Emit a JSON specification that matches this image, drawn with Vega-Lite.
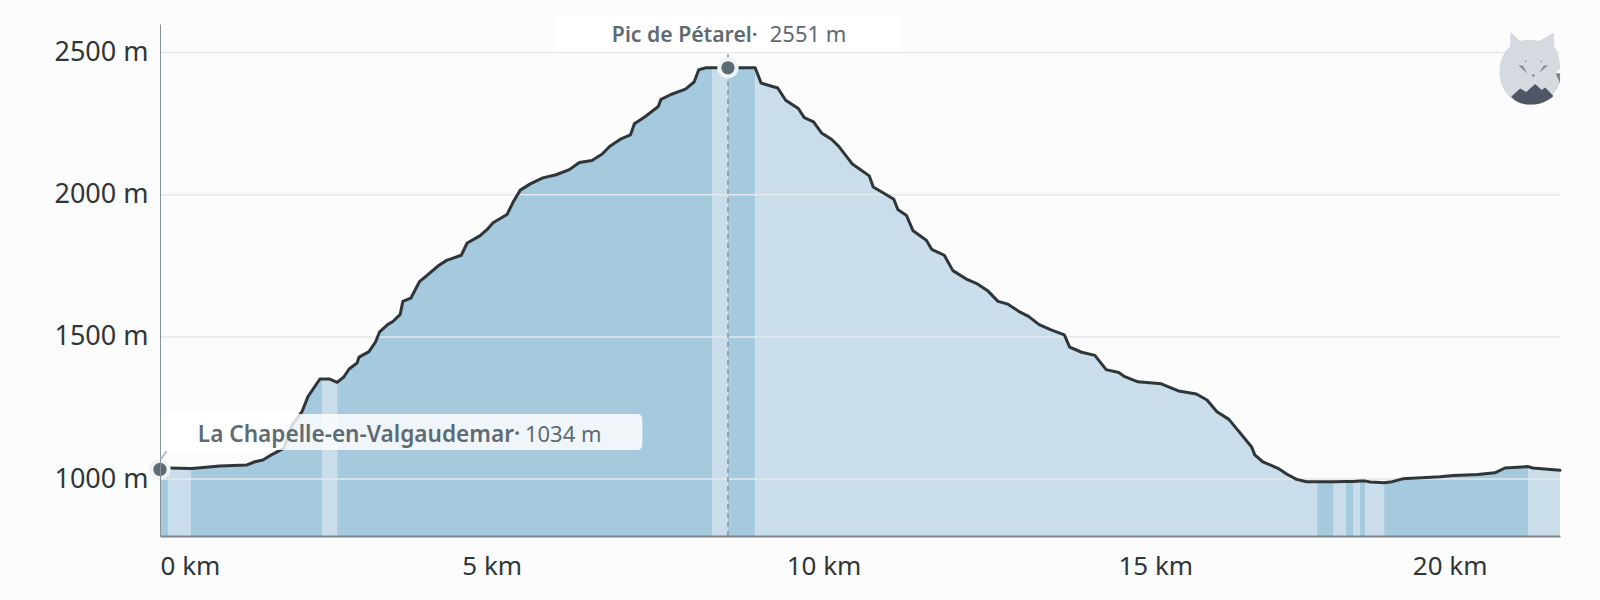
{
  "$schema": "https://vega.github.io/schema/vega-lite/v6.json",
  "description": "Elevation profile from La Chapelle-en-Valgaudemar over Pic de Pétarel",
  "width": 1400,
  "height": 512,
  "autosize": "none",
  "padding": {"left": 160, "top": 24, "right": 40, "bottom": 64},
  "background": "#fcfcfc",
  "config": {"view": {"stroke": null}, "font": "Noto Sans"},
  "datasets": {
    "profile": [
      {"km":0,"m":1034,"seg":1,"tone":"dark"},{"km":0.12,"m":1039,"seg":1,"tone":"dark"},
      {"km":0.12,"m":1039,"seg":2,"tone":"light"},{"km":0.14,"m":1039,"seg":2,"tone":"light"},{"km":0.46,"m":1037,"seg":2,"tone":"light"},
      {"km":0.46,"m":1037,"seg":3,"tone":"dark"},{"km":0.48,"m":1037,"seg":3,"tone":"dark"},{"km":0.9,"m":1046,"seg":3,"tone":"dark"},{"km":1.31,"m":1050,"seg":3,"tone":"dark"},{"km":1.43,"m":1061,"seg":3,"tone":"dark"},{"km":1.55,"m":1067,"seg":3,"tone":"dark"},{"km":1.7,"m":1088,"seg":3,"tone":"dark"},{"km":1.87,"m":1109,"seg":3,"tone":"dark"},{"km":1.99,"m":1190,"seg":3,"tone":"dark"},{"km":2.14,"m":1237,"seg":3,"tone":"dark"},{"km":2.23,"m":1290,"seg":3,"tone":"dark"},{"km":2.41,"m":1352,"seg":3,"tone":"dark"},{"km":2.45,"m":1352,"seg":3,"tone":"dark"},
      {"km":2.45,"m":1352,"seg":4,"tone":"light"},{"km":2.55,"m":1352,"seg":4,"tone":"light"},{"km":2.67,"m":1340,"seg":4,"tone":"light"},
      {"km":2.67,"m":1340,"seg":5,"tone":"dark"},{"km":2.77,"m":1359,"seg":5,"tone":"dark"},{"km":2.85,"m":1387,"seg":5,"tone":"dark"},{"km":2.97,"m":1408,"seg":5,"tone":"dark"},{"km":3.0,"m":1429,"seg":5,"tone":"dark"},{"km":3.15,"m":1448,"seg":5,"tone":"dark"},{"km":3.25,"m":1483,"seg":5,"tone":"dark"},{"km":3.31,"m":1518,"seg":5,"tone":"dark"},{"km":3.43,"m":1543,"seg":5,"tone":"dark"},{"km":3.51,"m":1554,"seg":5,"tone":"dark"},{"km":3.62,"m":1579,"seg":5,"tone":"dark"},{"km":3.66,"m":1625,"seg":5,"tone":"dark"},{"km":3.78,"m":1636,"seg":5,"tone":"dark"},{"km":3.91,"m":1694,"seg":5,"tone":"dark"},{"km":4.02,"m":1715,"seg":5,"tone":"dark"},{"km":4.2,"m":1751,"seg":5,"tone":"dark"},{"km":4.32,"m":1769,"seg":5,"tone":"dark"},{"km":4.54,"m":1787,"seg":5,"tone":"dark"},{"km":4.63,"m":1830,"seg":5,"tone":"dark"},{"km":4.82,"m":1855,"seg":5,"tone":"dark"},{"km":4.94,"m":1880,"seg":5,"tone":"dark"},{"km":5.02,"m":1901,"seg":5,"tone":"dark"},{"km":5.23,"m":1930,"seg":5,"tone":"dark"},{"km":5.32,"m":1973,"seg":5,"tone":"dark"},{"km":5.43,"m":2016,"seg":5,"tone":"dark"},{"km":5.58,"m":2038,"seg":5,"tone":"dark"},{"km":5.77,"m":2059,"seg":5,"tone":"dark"},{"km":5.97,"m":2070,"seg":5,"tone":"dark"},{"km":6.17,"m":2088,"seg":5,"tone":"dark"},{"km":6.32,"m":2113,"seg":5,"tone":"dark"},{"km":6.51,"m":2120,"seg":5,"tone":"dark"},{"km":6.66,"m":2142,"seg":5,"tone":"dark"},{"km":6.78,"m":2170,"seg":5,"tone":"dark"},{"km":6.94,"m":2195,"seg":5,"tone":"dark"},{"km":7.09,"m":2210,"seg":5,"tone":"dark"},{"km":7.15,"m":2249,"seg":5,"tone":"dark"},{"km":7.31,"m":2274,"seg":5,"tone":"dark"},{"km":7.51,"m":2310,"seg":5,"tone":"dark"},{"km":7.55,"m":2335,"seg":5,"tone":"dark"},{"km":7.71,"m":2353,"seg":5,"tone":"dark"},{"km":7.92,"m":2371,"seg":5,"tone":"dark"},{"km":8.05,"m":2396,"seg":5,"tone":"dark"},{"km":8.12,"m":2439,"seg":5,"tone":"dark"},{"km":8.23,"m":2446,"seg":5,"tone":"dark"},{"km":8.32,"m":2446,"seg":5,"tone":"dark"},
      {"km":8.32,"m":2446,"seg":6,"tone":"light"},{"km":8.56,"m":2446,"seg":6,"tone":"light"},
      {"km":8.56,"m":2446,"seg":7,"tone":"dark"},{"km":8.97,"m":2446,"seg":7,"tone":"dark"},
      {"km":8.97,"m":2446,"seg":8,"tone":"light"},{"km":9.06,"m":2392,"seg":8,"tone":"light"},{"km":9.31,"m":2375,"seg":8,"tone":"light"},{"km":9.43,"m":2332,"seg":8,"tone":"light"},{"km":9.62,"m":2303,"seg":8,"tone":"light"},{"km":9.71,"m":2271,"seg":8,"tone":"light"},{"km":9.85,"m":2256,"seg":8,"tone":"light"},{"km":9.97,"m":2217,"seg":8,"tone":"light"},{"km":10.12,"m":2195,"seg":8,"tone":"light"},{"km":10.23,"m":2170,"seg":8,"tone":"light"},{"km":10.43,"m":2109,"seg":8,"tone":"light"},{"km":10.69,"m":2066,"seg":8,"tone":"light"},{"km":10.75,"m":2027,"seg":8,"tone":"light"},{"km":10.91,"m":2005,"seg":8,"tone":"light"},{"km":11.06,"m":1984,"seg":8,"tone":"light"},{"km":11.12,"m":1948,"seg":8,"tone":"light"},{"km":11.25,"m":1927,"seg":8,"tone":"light"},{"km":11.35,"m":1873,"seg":8,"tone":"light"},{"km":11.55,"m":1840,"seg":8,"tone":"light"},{"km":11.63,"m":1808,"seg":8,"tone":"light"},{"km":11.82,"m":1787,"seg":8,"tone":"light"},{"km":11.95,"m":1733,"seg":8,"tone":"light"},{"km":12.17,"m":1701,"seg":8,"tone":"light"},{"km":12.32,"m":1686,"seg":8,"tone":"light"},{"km":12.48,"m":1661,"seg":8,"tone":"light"},{"km":12.63,"m":1625,"seg":8,"tone":"light"},{"km":12.78,"m":1615,"seg":8,"tone":"light"},{"km":12.97,"m":1586,"seg":8,"tone":"light"},{"km":13.09,"m":1572,"seg":8,"tone":"light"},{"km":13.25,"m":1543,"seg":8,"tone":"light"},{"km":13.43,"m":1525,"seg":8,"tone":"light"},{"km":13.63,"m":1507,"seg":8,"tone":"light"},{"km":13.71,"m":1464,"seg":8,"tone":"light"},{"km":13.89,"m":1446,"seg":8,"tone":"light"},{"km":14.09,"m":1435,"seg":8,"tone":"light"},{"km":14.26,"m":1385,"seg":8,"tone":"light"},{"km":14.45,"m":1375,"seg":8,"tone":"light"},{"km":14.54,"m":1360,"seg":8,"tone":"light"},{"km":14.74,"m":1342,"seg":8,"tone":"light"},{"km":15.09,"m":1335,"seg":8,"tone":"light"},{"km":15.35,"m":1310,"seg":8,"tone":"light"},{"km":15.62,"m":1299,"seg":8,"tone":"light"},{"km":15.78,"m":1278,"seg":8,"tone":"light"},{"km":15.93,"m":1237,"seg":8,"tone":"light"},{"km":16.11,"m":1210,"seg":8,"tone":"light"},{"km":16.45,"m":1114,"seg":8,"tone":"light"},{"km":16.5,"m":1085,"seg":8,"tone":"light"},{"km":16.62,"m":1061,"seg":8,"tone":"light"},{"km":16.85,"m":1038,"seg":8,"tone":"light"},{"km":16.98,"m":1018,"seg":8,"tone":"light"},{"km":17.13,"m":999,"seg":8,"tone":"light"},{"km":17.28,"m":991,"seg":8,"tone":"light"},{"km":17.44,"m":991,"seg":8,"tone":"light"},
      {"km":17.44,"m":991,"seg":9,"tone":"dark"},{"km":17.69,"m":991,"seg":9,"tone":"dark"},
      {"km":17.69,"m":991,"seg":10,"tone":"light"},{"km":17.87,"m":992,"seg":10,"tone":"light"},
      {"km":17.87,"m":992,"seg":11,"tone":"dark"},{"km":17.99,"m":992,"seg":11,"tone":"dark"},
      {"km":17.99,"m":992,"seg":12,"tone":"light"},{"km":18.08,"m":993,"seg":12,"tone":"light"},
      {"km":18.08,"m":993,"seg":13,"tone":"dark"},{"km":18.17,"m":993,"seg":13,"tone":"dark"},
      {"km":18.17,"m":993,"seg":14,"tone":"light"},{"km":18.24,"m":990,"seg":14,"tone":"light"},{"km":18.45,"m":987,"seg":14,"tone":"light"},
      {"km":18.45,"m":987,"seg":15,"tone":"dark"},{"km":18.57,"m":991,"seg":15,"tone":"dark"},{"km":18.73,"m":1001,"seg":15,"tone":"dark"},{"km":19.29,"m":1008,"seg":15,"tone":"dark"},{"km":19.49,"m":1013,"seg":15,"tone":"dark"},{"km":19.86,"m":1016,"seg":15,"tone":"dark"},{"km":20.12,"m":1022,"seg":15,"tone":"dark"},{"km":20.27,"m":1039,"seg":15,"tone":"dark"},{"km":20.62,"m":1044,"seg":15,"tone":"dark"},
      {"km":20.62,"m":1044,"seg":16,"tone":"light"},{"km":20.69,"m":1039,"seg":16,"tone":"light"},{"km":21.1,"m":1031,"seg":16,"tone":"light"}
    ]
  },
  "encoding": {
    "x": {
      "field": "km",
      "type": "quantitative",
      "scale": {"domain": [0, 21.1], "nice": false, "zero": false},
      "axis": {
        "title": null,
        "grid": false,
        "ticks": false,
        "values": [0, 5, 10, 15, 20],
        "labelExpr": "datum.value + ' km'",
        "labelAlign": {"expr": "datum.value == 0 ? 'left' : datum.value == 20 ? 'right' : 'center'"},
        "labelFontSize": 26,
        "labelColor": "#2f3639",
        "labelPadding": 17,
        "domainColor": "#7f878d",
        "domainWidth": 2,
        "zindex": 1
      }
    },
    "y": {
      "field": "m",
      "type": "quantitative",
      "scale": {"domain": [800, 2600], "nice": false, "zero": false},
      "axis": {
        "title": null,
        "grid": false,
        "ticks": false,
        "values": [1000, 1500, 2000, 2500],
        "labelExpr": "datum.value + ' m'",
        "labelFontSize": 27,
        "labelColor": "#2f3639",
        "labelPadding": 12,
        "domainColor": "#8a9299",
        "domainWidth": 1,
        "zindex": 1
      }
    }
  },
  "layer": [
    {
      "data": {"name": "profile"},
      "mark": {"type": "area"},
      "encoding": {
        "y2": {"datum": 800},
        "detail": {"field": "seg", "type": "nominal"},
        "color": {
          "field": "tone",
          "type": "nominal",
          "legend": null,
          "scale": {"domain": ["dark", "light"], "range": ["#a5c9dd", "#c9deea"]}
        }
      }
    },
    {
      "data": {"values": [{"m": 1000}, {"m": 1500}, {"m": 2000}, {"m": 2500}]},
      "mark": {"type": "rule", "color": "#e3e8ec", "strokeWidth": 1.5},
      "encoding": {"x": {"value": 0}, "x2": {"value": 1400}}
    },
    {
      "data": {"name": "profile"},
      "mark": {"type": "line", "color": "#2f3639", "strokeWidth": 3, "strokeJoin": "round", "strokeCap": "round"}
    },
    {
      "data": {"values": [{"km": 8.56, "m": 800, "top": 2500}]},
      "mark": {"type": "rule", "color": "#8a959c", "strokeWidth": 1.5, "strokeDash": [5, 4]},
      "encoding": {"y2": {"field": "top"}}
    },
    {
      "data": {"values": [{"km": 0, "km2": 7.27, "m": 1102, "top": 1229}]},
      "mark": {"type": "rect", "color": "#ffffff", "opacity": 0.82, "cornerRadius": 5},
      "encoding": {"x2": {"field": "km2"}, "y2": {"field": "top"}}
    },
    {
      "data": {"values": [{"km": 5.97, "km2": 11.15, "m": 2502, "top": 2632}]},
      "mark": {"type": "rect", "color": "#ffffff", "cornerRadius": 2},
      "encoding": {"x2": {"field": "km2"}, "y2": {"field": "top"}}
    },
    {
      "data": {"values": [{"km": 0.02, "m": 1072}, {"km": 0.1, "m": 1098}]},
      "mark": {"type": "line", "color": "#a3abb1", "strokeWidth": 1.5}
    },
    {
      "data": {"values": [{"km": 0, "m": 1034}, {"km": 8.56, "m": 2446}]},
      "mark": {"type": "point", "filled": true, "size": 300, "color": "#5f6b73", "stroke": "#eef3f6", "strokeWidth": 4, "opacity": 1}
    },
    {
      "data": {"values": [{"km": 0.57, "m": 1132, "label": "La Chapelle-en-Valgaudemar·"}]},
      "mark": {"type": "text", "align": "left", "baseline": "alphabetic", "fontSize": 22.6, "fontWeight": 600, "color": "#5f6b73"},
      "encoding": {"text": {"field": "label"}}
    },
    {
      "data": {"values": [{"km": 6.81, "m": 2538, "label": "Pic de Pétarel·"}]},
      "mark": {"type": "text", "align": "left", "baseline": "alphabetic", "fontSize": 21.2, "fontWeight": 600, "color": "#5f6b73"},
      "encoding": {"text": {"field": "label"}}
    },
    {
      "data": {"values": [{"km": 5.5, "m": 1132, "label": "1034 m"}, {"km": 9.19, "m": 2538, "label": "2551 m"}]},
      "mark": {"type": "text", "align": "left", "baseline": "alphabetic", "fontSize": 22, "color": "#5f6b73"},
      "encoding": {"text": {"field": "label"}}
    },
    {
      "data": {"values": [{"km": 20.64, "m": 2432}]},
      "mark": {
        "type": "point",
        "filled": true,
        "opacity": 1,
        "size": 3600,
        "color": "#d5d9e0",
        "shape": "M-0.64,-1.33 L-0.31,-1.03 C-0.1,-1.08 0.1,-1.08 0.31,-1.03 L0.82,-1.30 L0.82,-0.85 C1.0,-0.6 1.02,-0.3 1.02,-0.1 L0.85,0.05 L1.0,0.4 C0.8,0.9 0.4,1.1 0,1.1 C-0.6,1.1 -1.0,0.6 -1.0,0 C-1.0,-0.4 -0.85,-0.65 -0.64,-0.85 Z"
      }
    },
    {
      "data": {"values": [{"km": 20.64, "m": 2432}]},
      "mark": {
        "type": "point",
        "filled": true,
        "opacity": 1,
        "size": 3600,
        "color": "#7f8794",
        "shape": "M0.86,0.05 L1.02,0.05 L1.02,0.4 Z M-0.37,-0.22 L-0.22,-0.2 L-0.07,0.06 Z M0.63,-0.22 L0.48,-0.2 L0.33,0.02 Z M-0.16,-0.37 L-0.1,-0.37 L-0.13,-0.3 Z M0.36,-0.37 L0.42,-0.37 L0.39,-0.3 Z M0.07,0.09 L0.19,0.09 L0.13,0.19 Z"
      }
    },
    {
      "data": {"values": [{"km": 20.64, "m": 2432}]},
      "mark": {
        "type": "point",
        "filled": true,
        "opacity": 1,
        "size": 3600,
        "color": "#4f5666",
        "shape": "M-0.61,0.83 L-0.31,0.56 L-0.11,0.67 L0.19,0.41 L0.41,0.61 L0.52,0.52 L0.80,0.81 C0.5,1.08 0.2,1.1 0,1.09 C-0.25,1.09 -0.45,1.0 -0.61,0.83 Z"
      }
    }
  ]
}
